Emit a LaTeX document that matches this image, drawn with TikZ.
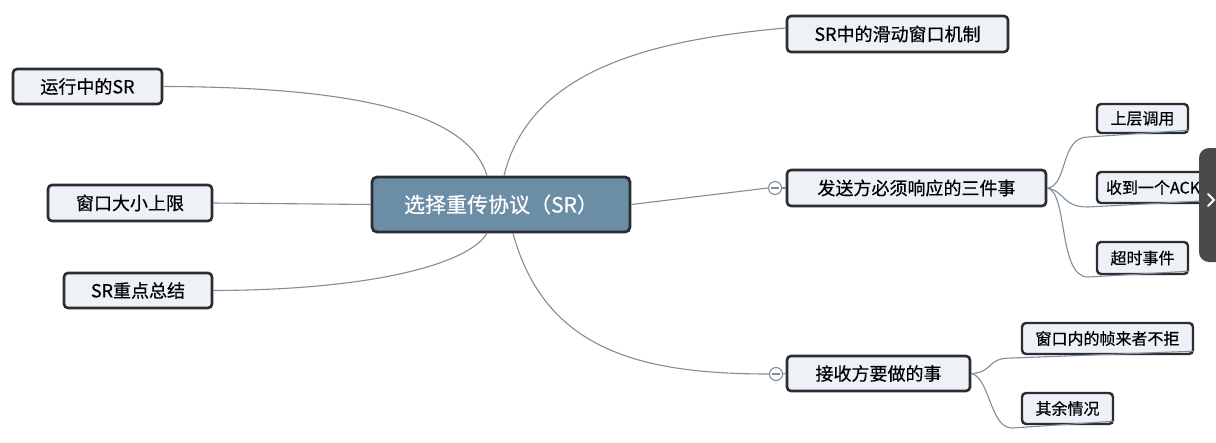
\documentclass[tikz,border=0pt]{standalone}
\usepackage{fontspec}
\setmainfont{Noto Sans CJK SC}
\newfontfamily\tfont[FakeBold=0.5]{Noto Sans CJK SC}
\definecolor{linec}{HTML}{7D8F9C}
\definecolor{boxfill}{HTML}{EEF2F6}
\definecolor{boxdraw}{HTML}{2A2E33}
\definecolor{centfill}{HTML}{6B8DA5}
\definecolor{tabc}{HTML}{4A4A4A}
\tikzset{
  topic/.style={draw=boxdraw, line width=2.6pt, rounded corners=4pt, fill=boxfill, inner sep=0pt, font=\tfont\fontsize{18}{18}\selectfont, text=black},
  sub/.style={draw=boxdraw, line width=2.4pt, rounded corners=4pt, fill=boxfill, inner sep=0pt, font=\tfont\fontsize{16}{16}\selectfont, text=black},
  central/.style={draw=boxdraw, line width=2.8pt, rounded corners=5pt, fill=centfill, inner sep=0pt, font=\tfont\fontsize{21}{21}\selectfont, text=white},
  conn/.style={draw=linec, line width=1.1pt},
  fold/.style={circle, draw=linec, line width=1.1pt, fill=white, minimum size=13pt, inner sep=0pt}
}
\begin{document}
\begin{tikzpicture}[x=1pt,y=-1pt]
\useasboundingbox (0,0) rectangle (1216,442);
\fill[white] (0,0) rectangle (1216,442);

% central
\node[central, minimum width=258pt, minimum height=55pt] (c) at (501,204.5) {选择重传协议（SR）};

% right topics
\node[topic, minimum width=221pt, minimum height=36pt] (t1) at (897.5,34) {SR中的滑动窗口机制};
\node[topic, minimum width=259pt, minimum height=36pt] (t2) at (916.5,188) {发送方必须响应的三件事};
\node[topic, minimum width=183pt, minimum height=35pt] (t3) at (878.5,373.5) {接收方要做的事};

% left topics
\node[topic, minimum width=149pt, minimum height=35pt] (l1) at (87.5,86.5) {运行中的SR};
\node[topic, minimum width=164pt, minimum height=36pt] (l2) at (130,203) {窗口大小上限};
\node[topic, minimum width=148pt, minimum height=35pt] (l3) at (138,290.5) {SR重点总结};

% sub topics
\node[sub, minimum width=91pt, minimum height=29pt] (s1) at (1142.5,118.5) {上层调用};
\node[sub, minimum width=118pt, minimum height=31pt, inner xsep=9pt, text width=100pt, align=left] (s2) at (1156,187.5) {收到一个ACK};
\node[sub, minimum width=91pt, minimum height=32pt] (s3) at (1142.5,258) {超时事件};
\node[sub, minimum width=171pt, minimum height=31pt] (r1) at (1107.5,338.5) {窗口内的帧来者不拒};
\node[sub, minimum width=91pt, minimum height=31pt] (r2) at (1067.5,408.5) {其余情况};

% fold markers
\node[fold] (m1) at (775,188) {};
\draw[linec, line width=1.1pt] ([xshift=-4pt]m1.center) -- ([xshift=4pt]m1.center);
\node[fold] (m2) at (776,374) {};
\draw[linec, line width=1.1pt] ([xshift=-4pt]m2.center) -- ([xshift=4pt]m2.center);

% connectors from central
\draw[conn] ([xshift=-14pt]c.north) .. controls (470,120) and (380,87) .. (l1.east);
\draw[conn] (c.west) -- (l2.east);
\draw[conn] ([xshift=-14pt]c.south) .. controls (470,262) and (380,290) .. (l3.east);
\draw[conn] ([xshift=3pt]c.north) .. controls (530,70) and (650,40) .. ([yshift=6pt]t1.west);
\draw[conn] (c.east) -- (m1.west);
\draw[conn] (m1.east) -- (t2.west);
\draw[conn] ([xshift=12pt]c.south) .. controls (545,350) and (640,374) .. (m2.west);
\draw[conn] (m2.east) -- (t3.west);

% sub connectors (curve then underline)
\draw[conn] (t2.east) .. controls (1068,186) and (1060,137) .. (1088,137) -- ([yshift=4pt]s1.south east);
\draw[conn] (t2.east) .. controls (1066,192) and (1062,207) .. (1088,207) -- ([yshift=4pt]s2.south east);
\draw[conn] (t2.east) .. controls (1068,192) and (1058,277) .. (1088,277) -- ([yshift=4pt]s3.south east);
\draw[conn] (t3.east) .. controls (995,372) and (985,358) .. (1012,358) -- ([yshift=4pt]r1.south east);
\draw[conn] (t3.east) .. controls (990,378) and (990,428) .. (1012,428) -- ([yshift=4pt]r2.south east);

% screen tab overlay at the right edge
\fill[tabc, rounded corners=10pt] (1199,148) rectangle (1230,262);
\draw[white, line width=2pt, line cap=round] (1208,194) -- (1214,200) -- (1208,206);
\end{tikzpicture}
\end{document}
